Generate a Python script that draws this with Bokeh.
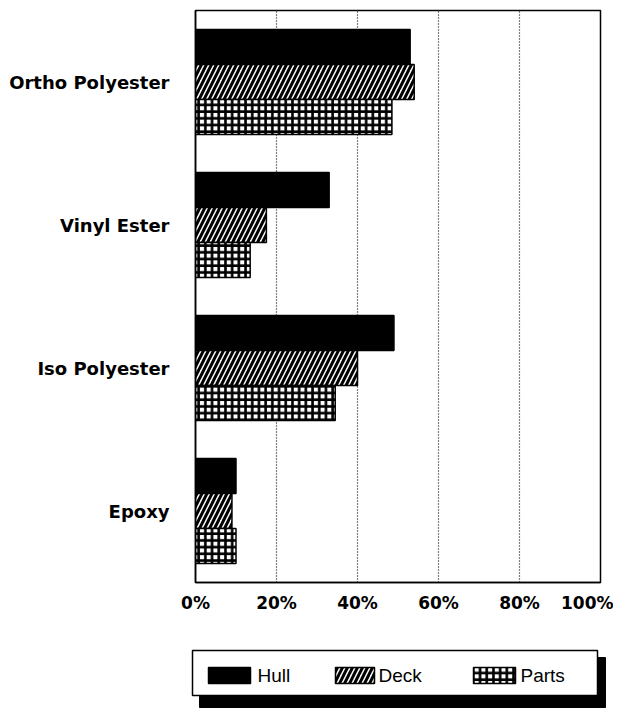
from bokeh.plotting import figure
from bokeh.models import FactorRange, Range1d, FixedTicker, CustomJSTickFormatter, ColumnDataSource
from bokeh.transform import dodge
from bokeh.layouts import column, row
from bokeh.core.properties import value
from bokeh.embed import file_html
from bokeh.resources import INLINE

# ---- data ----
categories = ["Ortho Polyester", "Vinyl Ester", "Iso Polyester", "Epoxy"]
series = ["Hull", "Deck", "Parts"]
hull = [53, 33, 49, 10]
deck = [54, 17.5, 40, 9]
parts = [48.5, 13.5, 34.5, 10]
x_ticks = [0, 20, 40, 60, 80, 100]

src = ColumnDataSource(dict(cat=categories, Hull=hull, Deck=deck, Parts=parts))

FONT_B = "DejaVu Sans"
p = figure(width=613, height=615, output_backend="svg", toolbar_location=None,
           y_range=FactorRange(*reversed(categories)), x_range=Range1d(0, 100),
           min_border_left=195, min_border_right=13, min_border_top=10, min_border_bottom=33)

bh = 0.245
styles = {
    "Hull": dict(fill_color="black"),
    "Deck": dict(fill_color="white", hatch_pattern="/", hatch_color="black", hatch_scale=10, hatch_weight=3),
    "Parts": dict(fill_color="white", hatch_pattern="+", hatch_color="black", hatch_scale=6.7, hatch_weight=2.6),
}
offsets = {"Hull": bh, "Deck": 0, "Parts": -bh}
for s in series:
    p.hbar(y=dodge("cat", offsets[s], range=p.y_range), right=s, left=0, height=bh, source=src,
           line_color="black", line_width=1.5, **styles[s])

p.xgrid.ticker = FixedTicker(ticks=x_ticks)
p.xgrid.grid_line_color = "black"
p.xgrid.grid_line_dash = "1 2"
p.xgrid.grid_line_width = 1.2
p.ygrid.grid_line_color = None

p.xaxis.ticker = FixedTicker(ticks=x_ticks)
p.xaxis.formatter = CustomJSTickFormatter(code="return tick + '%';")
p.xaxis.major_tick_line_color = None
p.xaxis.minor_tick_line_color = None
p.xaxis.axis_line_color = "black"
p.xaxis.axis_line_width = 1.5
p.xaxis.major_label_text_font = FONT_B
p.xaxis.major_label_text_font_style = "bold"
p.xaxis.major_label_text_font_size = "17px"
p.xaxis.major_label_text_color = "black"
p.xaxis.major_label_standoff = 4

p.yaxis.major_tick_line_color = None
p.yaxis.axis_line_color = "black"
p.yaxis.axis_line_width = 1.5
p.yaxis.major_label_text_font = FONT_B
p.yaxis.major_label_text_font_style = "bold"
p.yaxis.major_label_text_font_size = "18px"
p.yaxis.major_label_text_color = "black"
p.yaxis.major_label_standoff = 20

p.outline_line_color = "black"
p.outline_line_width = 1.5
p.background_fill_color = "white"
p.border_fill_color = "white"

# ---- legend panel ----
lg = figure(width=613, height=95, output_backend="svg", toolbar_location=None,
            x_range=Range1d(0, 613), y_range=Range1d(95, 0),
            x_axis_location=None, y_axis_location=None,
            min_border_left=0, min_border_right=0, min_border_top=0, min_border_bottom=0)
lg.grid.grid_line_color = None
lg.outline_line_color = None
lg.quad(left=[199], right=[605], top=[42], bottom=[92], fill_color="black", line_color="black")
lg.quad(left=[192], right=[597], top=[35], bottom=[80], fill_color="white", line_color="black", line_width=1.5)

sw_left = [208, 335, 473]
sw_right = [250, 374, 515]
txt_x = [257, 378, 520]
for i, s in enumerate(series):
    lg.quad(left=[sw_left[i]], right=[sw_right[i]], top=[52], bottom=[68],
            line_color="black", line_width=1.5, **styles[s])
lg.text(x=txt_x, y=[60] * 3, text=series, text_font=value("Liberation Sans"),
        text_font_size="19px", text_baseline="middle", text_align="left", text_color="black")

layout = column(p, row(lg), spacing=0)
open("out.html", "w").write(file_html(layout, INLINE))
